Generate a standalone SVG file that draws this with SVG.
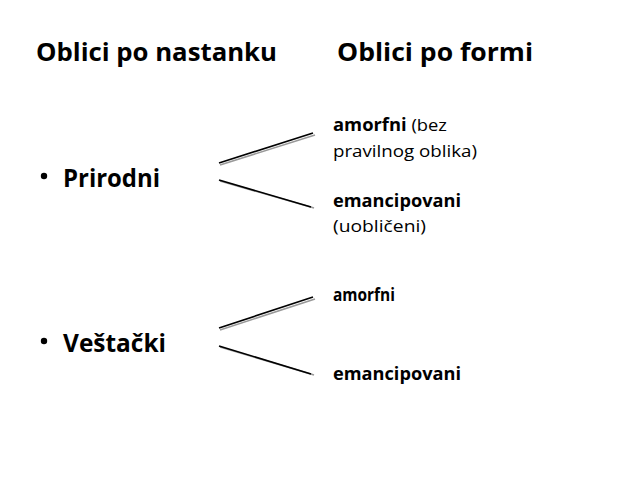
<svg xmlns="http://www.w3.org/2000/svg" width="638" height="479" viewBox="0 0 638 479">
<style>
.t{font-family:"Open Sans","Noto Sans","Liberation Sans",sans-serif;fill:#000}
.h{font-size:24.5px;font-weight:bold}
.s{font-size:17px}
.bold{font-weight:bold}
.k{stroke:#000;stroke-width:1.6;fill:none}
.g{stroke:#999;stroke-width:1.6;fill:none}
</style>
<rect width="638" height="479" fill="#fff"/>
<g id="header-left"><text class="t h" x="36" y="61" textLength="241" lengthAdjust="spacingAndGlyphs">Oblici po nastanku</text></g>
<g id="header-right"><text class="t h" x="337" y="61" textLength="196" lengthAdjust="spacingAndGlyphs">Oblici po formi</text></g>
<g id="prirodni"><circle cx="44" cy="176" r="3.2"/><text class="t h" x="63" y="187" textLength="97" lengthAdjust="spacingAndGlyphs">Prirodni</text></g>
<g id="vestacki"><circle cx="44" cy="341" r="3.2"/><text class="t h" x="63" y="352" textLength="103" lengthAdjust="spacingAndGlyphs">Veštački</text></g>
<g id="amorfni1"><text class="t s" x="333" y="131" textLength="114" lengthAdjust="spacingAndGlyphs"><tspan class="bold">amorfni</tspan> (bez</text><text class="t s" x="333" y="157" textLength="144" lengthAdjust="spacingAndGlyphs">pravilnog oblika)</text></g>
<g id="emancipovani1"><text class="t s bold" x="333" y="207" textLength="128" lengthAdjust="spacingAndGlyphs">emancipovani</text><text class="t s" x="333" y="232" textLength="93" lengthAdjust="spacingAndGlyphs">(uobličeni)</text></g>
<g id="amorfni2"><text class="t s bold" x="333" y="301" textLength="62" lengthAdjust="spacingAndGlyphs">amorfni</text></g>
<g id="emancipovani2"><text class="t s bold" x="333" y="380" textLength="128" lengthAdjust="spacingAndGlyphs">emancipovani</text></g>
<g id="connectors">
<line class="g" x1="220" y1="165" x2="315" y2="135"/>
<line class="k" x1="219" y1="163" x2="313" y2="133"/>
<line class="g" x1="220" y1="181" x2="314" y2="208"/>
<line class="k" x1="219" y1="180" x2="311" y2="207"/>
<line class="g" x1="220" y1="330" x2="315" y2="299"/>
<line class="k" x1="219" y1="328" x2="313" y2="297"/>
<line class="g" x1="220" y1="347" x2="314" y2="375"/>
<line class="k" x1="219" y1="346" x2="311" y2="374"/>
</g>
</svg>
